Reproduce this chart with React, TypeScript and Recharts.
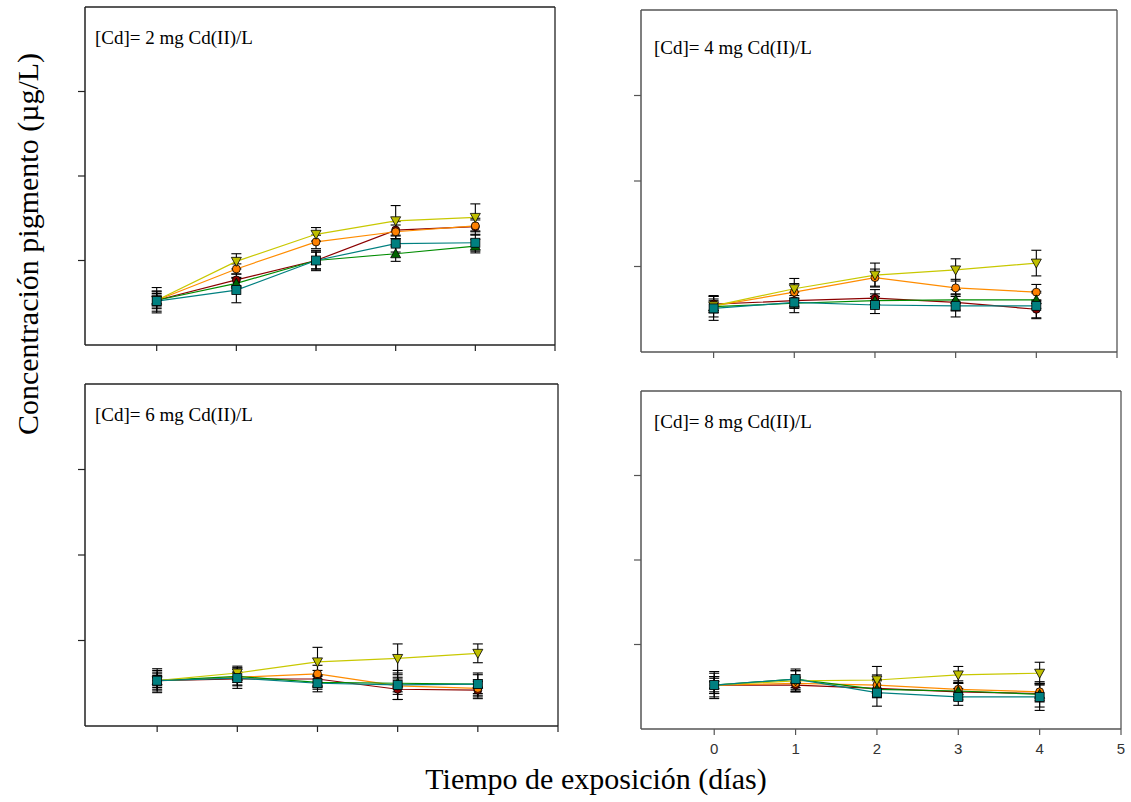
import React from "react";
import { LineChart, Line, XAxis, YAxis, ErrorBar, ReferenceLine } from "recharts";

const days = [0, 1, 2, 3, 4];
const xTicks = [0, 1, 2, 3, 4, 5];
const yTicks = [1, 2, 3];

// panel 1: [Cd] = 2 mg/L
const p1Red = [0.53, 0.77, 1.0, 1.36, 1.4];
const p1Orange = [0.53, 0.9, 1.22, 1.34, 1.41];
const p1Yellow = [0.53, 0.99, 1.31, 1.47, 1.51];
const p1Green = [0.53, 0.73, 1.0, 1.08, 1.17];
const p1Teal = [0.52, 0.65, 1.0, 1.2, 1.21];
const p1RedErr = [0.1, 0.07, 0.1, 0.1, 0.1];
const p1OrangeErr = [0.08, 0.06, 0.08, 0.08, 0.07];
const p1YellowErr = [0.06, 0.09, 0.08, 0.18, 0.16];
const p1GreenErr = [0.15, 0.06, 0.12, 0.09, 0.08];
const p1TealErr = [0.12, 0.15, 0.1, 0.1, 0.1];

// panel 2: [Cd] = 4 mg/L
const p2Red = [0.56, 0.6, 0.63, 0.58, 0.5];
const p2Orange = [0.54, 0.7, 0.87, 0.75, 0.7];
const p2Yellow = [0.54, 0.74, 0.9, 0.96, 1.04];
const p2Green = [0.53, 0.57, 0.6, 0.61, 0.61];
const p2Teal = [0.51, 0.58, 0.55, 0.54, 0.54];
const p2RedErr = [0.1, 0.06, 0.1, 0.1, 0.1];
const p2OrangeErr = [0.08, 0.1, 0.1, 0.1, 0.09];
const p2YellowErr = [0.06, 0.12, 0.14, 0.13, 0.15];
const p2GreenErr = [0.12, 0.06, 0.08, 0.12, 0.1];
const p2TealErr = [0.14, 0.12, 0.1, 0.13, 0.15];

// panel 3: [Cd] = 6 mg/L
const p3Red = [0.53, 0.55, 0.55, 0.43, 0.42];
const p3Orange = [0.53, 0.57, 0.61, 0.47, 0.44];
const p3Yellow = [0.53, 0.62, 0.75, 0.79, 0.85];
const p3Green = [0.53, 0.58, 0.51, 0.5, 0.49];
const p3Teal = [0.53, 0.56, 0.5, 0.48, 0.49];
const p3RedErr = [0.1, 0.08, 0.1, 0.12, 0.1];
const p3OrangeErr = [0.08, 0.06, 0.1, 0.1, 0.1];
const p3YellowErr = [0.06, 0.08, 0.17, 0.17, 0.11];
const p3GreenErr = [0.12, 0.1, 0.08, 0.1, 0.11];
const p3TealErr = [0.14, 0.12, 0.1, 0.17, 0.13];

// panel 4: [Cd] = 8 mg/L
const p4Red = [0.52, 0.52, 0.48, 0.44, 0.42];
const p4Orange = [0.52, 0.54, 0.52, 0.47, 0.44];
const p4Yellow = [0.52, 0.57, 0.58, 0.64, 0.66];
const p4Green = [0.52, 0.59, 0.47, 0.45, 0.41];
const p4Teal = [0.52, 0.59, 0.43, 0.38, 0.38];
const p4RedErr = [0.1, 0.08, 0.1, 0.1, 0.1];
const p4OrangeErr = [0.08, 0.1, 0.12, 0.1, 0.1];
const p4YellowErr = [0.1, 0.12, 0.16, 0.1, 0.13];
const p4GreenErr = [0.14, 0.1, 0.1, 0.1, 0.15];
const p4TealErr = [0.16, 0.12, 0.16, 0.1, 0.16];

const titles = [
  "[Cd]= 2 mg Cd(II)/L",
  "[Cd]= 4 mg Cd(II)/L",
  "[Cd]= 6 mg Cd(II)/L",
  "[Cd]= 8 mg Cd(II)/L",
];

function rows(red, orange, yellow, green, teal, redE, orangeE, yellowE, greenE, tealE) {
  return days.map((d, i) => ({
    day: d,
    red: red[i],
    orange: orange[i],
    yellow: yellow[i],
    green: green[i],
    teal: teal[i],
    redErr: redE[i],
    orangeErr: orangeE[i],
    yellowErr: yellowE[i],
    greenErr: greenE[i],
    tealErr: tealE[i],
  }));
}

const panelData = [
  rows(p1Red, p1Orange, p1Yellow, p1Green, p1Teal, p1RedErr, p1OrangeErr, p1YellowErr, p1GreenErr, p1TealErr),
  rows(p2Red, p2Orange, p2Yellow, p2Green, p2Teal, p2RedErr, p2OrangeErr, p2YellowErr, p2GreenErr, p2TealErr),
  rows(p3Red, p3Orange, p3Yellow, p3Green, p3Teal, p3RedErr, p3OrangeErr, p3YellowErr, p3GreenErr, p3TealErr),
  rows(p4Red, p4Orange, p4Yellow, p4Green, p4Teal, p4RedErr, p4OrangeErr, p4YellowErr, p4GreenErr, p4TealErr),
];

// plot boxes in page pixels: left, top, right, bottom
const boxes = [
  [85, 7, 555, 345],
  [641, 10, 1117, 352],
  [85, 384, 558, 726],
  [641, 391, 1121, 729],
];
const titlePos = [
  [95, 27],
  [654, 37],
  [95, 404],
  [654, 411],
];

const series = [
  { key: "red", line: "#8b0000", fill: "#8b0000", shape: "circle" },
  { key: "orange", line: "#ff8c00", fill: "#ff8000", shape: "circle" },
  { key: "green", line: "#008c00", fill: "#006400", shape: "up" },
  { key: "yellow", line: "#c8c800", fill: "#bfbf00", shape: "down" },
  { key: "teal", line: "#008080", fill: "#008080", shape: "square" },
];

function makeDot(shape, fill) {
  return (props) => {
    const { cx, cy, index } = props;
    if (cx == null || cy == null) return <g key={index} />;
    const s = { fill, stroke: "#000", strokeWidth: 0.8 };
    if (shape === "circle") return <circle key={index} cx={cx} cy={cy} r={4} {...s} />;
    if (shape === "square") return <rect key={index} x={cx - 4.5} y={cy - 4.5} width={9} height={9} {...s} />;
    if (shape === "up")
      return <polygon key={index} points={`${cx},${cy - 5} ${cx - 5},${cy + 4} ${cx + 5},${cy + 4}`} {...s} />;
    return <polygon key={index} points={`${cx},${cy + 5} ${cx - 5},${cy - 4} ${cx + 5},${cy - 4}`} {...s} />;
  };
}

const noLabel = () => <g />;

function Panel({ idx }) {
  const [l, t, r, b] = boxes[idx];
  const padL = 20, padT = 5, padR = 20, padB = 35;
  const axisColor = idx % 2 === 0 ? "#222" : "#555";
  const showLabels = idx === 3;
  return (
    <div style={{ position: "absolute", left: l - padL, top: t - padT }}>
      <LineChart
        width={r - l + padL + padR}
        height={b - t + padT + padB}
        data={panelData[idx]}
        margin={{ top: padT, right: padR, left: 0, bottom: 0 }}
      >
        <XAxis
          dataKey="day"
          type="number"
          domain={[-0.9, 5]}
          ticks={xTicks}
          allowDataOverflow
          height={padB}
          axisLine={{ stroke: axisColor, strokeWidth: 1.5 }}
          tickLine={{ stroke: axisColor, strokeWidth: 1.2 }}
          tickSize={6}
          tickMargin={8}
          tick={showLabels ? { fill: "#333", fontSize: 15, fontFamily: "Liberation Sans, Arial, sans-serif" } : noLabel}
        />
        <YAxis
          type="number"
          domain={[0, 4]}
          ticks={yTicks}
          allowDataOverflow
          width={padL}
          axisLine={{ stroke: axisColor, strokeWidth: 1.5 }}
          tickLine={{ stroke: axisColor, strokeWidth: 1.2 }}
          tickSize={7}
          tick={noLabel}
        />
        <ReferenceLine y={4} stroke={axisColor} strokeWidth={1.3} />
        <ReferenceLine x={5} stroke={axisColor} strokeWidth={1.3} />
        {series.map((s) => (
          <Line
            key={s.key}
            type="linear"
            dataKey={s.key}
            stroke={s.line}
            strokeWidth={1.2}
            dot={makeDot(s.shape, s.fill)}
            activeDot={false}
            isAnimationActive={false}
          >
            <ErrorBar dataKey={s.key + "Err"} width={5} stroke="#000" strokeWidth={1.1} direction="y" />
          </Line>
        ))}
      </LineChart>
    </div>
  );
}

export default function App() {
  const serif = "'Liberation Serif', 'Times New Roman', serif";
  return (
    <div style={{ position: "absolute", left: 0, top: 0, width: 1131, height: 802, background: "#fff" }}>
      {[0, 1, 2, 3].map((i) => (
        <Panel key={i} idx={i} />
      ))}
      {titles.map((txt, i) => (
        <div
          key={txt}
          style={{
            position: "absolute",
            left: titlePos[i][0],
            top: titlePos[i][1],
            fontFamily: serif,
            fontSize: 19,
            lineHeight: "21px",
            whiteSpace: "nowrap",
          }}
        >
          {txt}
        </div>
      ))}
      <div
        style={{
          position: "absolute",
          left: 28,
          top: 244,
          transform: "translate(-50%, -50%) rotate(-90deg)",
          fontFamily: serif,
          fontSize: 30,
          whiteSpace: "nowrap",
        }}
      >
        Concentración pigmento (µg/L)
      </div>
      <div
        style={{
          position: "absolute",
          left: 596,
          top: 779,
          transform: "translate(-50%, -50%)",
          fontFamily: serif,
          fontSize: 30,
          whiteSpace: "nowrap",
        }}
      >
        Tiempo de exposición (días)
      </div>
    </div>
  );
}
